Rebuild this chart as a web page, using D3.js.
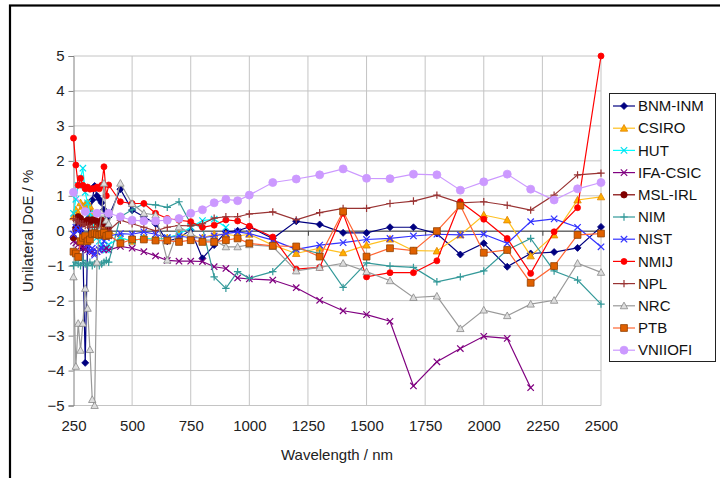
<!DOCTYPE html>
<html><head><meta charset="utf-8">
<script src="https://cdn.jsdelivr.net/npm/d3@7/dist/d3.min.js"></script>
<style>html,body{margin:0;padding:0;background:#fff;}svg{display:block;font-family:"Liberation Sans",Arial,sans-serif;}</style>
</head><body>
<script>
const wavelengths = [250,260,270,280,290,300,310,320,330,340,350,360,370,380,390,400,450,500,550,600,650,700,750,800,850,900,950,1000,1100,1200,1300,1400,1500,1600,1700,1800,1900,2000,2100,2200,2300,2400,2500];
const seriesNames = ["BNM-INM","CSIRO","HUT","IFA-CSIC","MSL-IRL","NIM","NIST","NMIJ","NPL","NRC","PTB","VNIIOFI"];
const bnmInm = [-0.2,0.1,0.3,0.0,-0.5,-3.78,-0.3,0.4,0.88,1.28,1.0,0.9,0.8,0.6,0.2,0.4,1.19,0.59,0.4,0.2,-0.3,-0.2,0.02,-0.79,-0.41,-0.03,0.0,0.11,-0.22,0.27,0.18,-0.06,-0.06,0.1,0.1,-0.08,-0.68,-0.36,-1.03,-0.65,-0.61,-0.49,0.11];
const csiro = [0.4,0.6,0.5,0.8,0.7,0.75,0.8,0.7,0.5,0.4,0.2,0.1,0.0,0.1,-0.1,0.0,-0.2,-0.3,-0.2,-0.25,-0.2,-0.1,-0.15,-0.2,-0.1,-0.1,-0.15,-0.1,-0.41,-0.65,-0.5,-0.63,-0.41,-0.24,-0.57,-0.58,-0.12,0.45,0.31,-0.72,-0.12,0.88,0.97];
const hut = [0.5,0.9,1.3,1.5,1.79,1.1,0.8,0.5,0.3,0.0,-0.2,-0.3,-0.4,-0.5,-0.55,-0.4,-0.2,-0.3,-0.2,-0.25,-0.2,-0.1,0.1,0.29,0.33,0.1,null,null,null,null,null,null,null,null,null,null,null,null,null,null,null,null,null];
const ifaCsic = [-0.3,-0.35,-0.4,-0.45,-0.5,-0.5,-0.55,-0.6,-0.6,-0.65,-0.6,-0.55,-0.5,-0.55,-0.5,-0.55,-0.45,-0.5,-0.6,-0.72,-0.85,-0.87,-0.87,-0.88,-1.03,-1.08,-1.35,-1.38,-1.41,-1.63,-1.99,-2.29,-2.4,-2.59,-4.44,-3.75,-3.37,-3.02,-3.08,-4.49,null,null,null];
const mslIrl = [-0.2,0.05,0.4,0.35,0.2,0.26,0.3,0.25,0.31,0.3,0.26,0.2,0.3,0.2,0.25,0.1,null,null,null,null,null,null,null,null,null,null,null,null,null,null,null,null,null,null,null,null,null,null,null,null,null,null,null];
const nim = [-1.0,-0.9,-0.95,-1.0,-0.85,-0.95,-1.0,-0.9,-1.0,-0.95,-0.9,-1.0,-0.95,-0.9,-0.85,-0.9,0.4,0.6,0.77,0.74,0.67,0.83,0.2,0.1,-1.32,-1.65,-1.17,-1.36,-1.17,-0.5,-0.65,-1.62,-0.92,-1.01,-1.05,-1.46,-1.32,-1.15,-0.55,-0.22,-1.15,-1.41,-2.1];
const nist = [-0.1,0.1,0.0,0.07,-0.2,-0.3,-0.4,-0.6,-0.5,-0.7,-0.6,-0.55,-0.5,-0.3,-0.2,-0.15,-0.08,-0.1,-0.03,-0.1,-0.2,-0.15,-0.2,-0.2,-0.15,-0.08,-0.03,-0.08,-0.27,-0.53,-0.41,-0.34,-0.25,-0.22,-0.15,-0.1,-0.12,-0.1,-0.36,0.26,0.34,0.1,-0.46];
const nmij = [2.65,1.88,1.3,1.5,1.3,1.2,1.25,1.19,1.2,1.21,1.25,1.2,1.3,1.83,1.0,1.31,0.83,0.78,0.78,0.5,0.35,0.3,0.26,0.1,0.16,0.31,0.28,0.13,-0.18,-1.1,-1.05,0.5,-1.32,-1.2,-1.2,-0.86,0.83,0.33,-0.22,-1.22,-0.03,0.66,5.0];
const npl = [0.35,0.3,0.25,0.2,0.2,0.15,0.15,0.1,0.1,0.1,0.1,0.05,0.05,0.0,0.0,0.0,0.3,0.2,0.1,0.0,0.1,0.15,0.14,0.2,0.36,0.4,0.4,0.48,0.54,0.31,0.52,0.64,0.64,0.78,0.85,1.02,0.8,0.83,0.73,0.59,1.02,1.6,1.65];
const nrc = [-1.32,-3.88,-2.65,-3.42,-2.65,-1.65,-2.22,-3.4,-4.83,-5.0,-0.9,0.0,0.5,1.36,0.3,0.2,1.36,0.78,0.5,0.45,-0.84,0.11,-0.07,-0.27,-0.27,-0.46,-0.46,-0.4,-0.45,-1.15,-1.05,-0.93,-1.17,-1.43,-1.91,-1.87,-2.8,-2.27,-2.43,-2.1,-1.99,-0.93,-1.19];
const ptb = [-0.6,-0.65,-0.75,-0.3,-0.2,-0.15,-0.3,-0.25,-0.1,-0.07,-0.1,-0.12,-0.1,-0.06,-0.15,-0.12,-0.36,-0.25,-0.25,-0.28,-0.28,-0.32,-0.27,-0.32,-0.32,-0.27,-0.22,-0.36,-0.43,-0.45,-0.74,0.55,-0.74,-0.5,-0.57,-0.01,0.72,-0.63,-0.55,-1.49,-1.01,-0.12,-0.08];
const vniiofi = [1.1,null,null,null,null,0.55,null,null,null,null,0.5,null,null,null,null,0.5,0.4,0.3,0.28,0.28,0.3,0.35,0.5,0.6,0.8,0.9,0.86,1.02,1.38,1.48,1.6,1.77,1.5,1.49,1.62,1.6,1.16,1.4,1.62,1.19,0.88,1.2,1.38];
const xTicks = [250,500,750,1000,1250,1500,1750,2000,2250,2500];
const yTicks = [-5,-4,-3,-2,-1,0,1,2,3,4,5];

const seriesValues = [bnmInm,csiro,hut,ifaCsic,mslIrl,nim,nist,nmij,npl,nrc,ptb,vniiofi];
const styles = [
  {line:"#000080", fill:"#000080", stroke:"#000080", shape:"diamond", r:3.5},
  {line:"#FFC020", fill:"#FFB000", stroke:"#E08000", shape:"triangle", r:3.7},
  {line:"#00FFFF", fill:"none", stroke:"#00E0F0", shape:"times", r:3.2},
  {line:"#800080", fill:"none", stroke:"#800080", shape:"times", r:3.2},
  {line:"#800000", fill:"#800000", stroke:"#800000", shape:"circle", r:3.2},
  {line:"#339999", fill:"none", stroke:"#339999", shape:"plus", r:3.7},
  {line:"#3333FF", fill:"none", stroke:"#3333FF", shape:"times", r:3.2},
  {line:"#FF0000", fill:"#FF0000", stroke:"#FF0000", shape:"circle", r:3},
  {line:"#993333", fill:"none", stroke:"#993333", shape:"plus", r:3.7},
  {line:"#999999", fill:"#dddddd", stroke:"#888888", shape:"triangle", r:3.7},
  {line:"#FF6633", fill:"#E06000", stroke:"#904000", shape:"square", r:3.4},
  {line:"#CC99FF", fill:"#CC99FF", stroke:"#CC99FF", shape:"circle", r:4}
];

function markerPath(shape, r){
  switch(shape){
    case "diamond": return `M0,${-r}L${r},0L0,${r}L${-r},0Z`;
    case "triangle": return `M0,${-r}L${r},${r*0.8}L${-r},${r*0.8}Z`;
    case "square": return `M${-r},${-r}H${r}V${r}H${-r}Z`;
    case "circle": return `M${r},0A${r},${r} 0 1,1 ${-r},0A${r},${r} 0 1,1 ${r},0Z`;
    case "plus": return `M${-r},0H${r}M0,${-r}V${r}`;
    case "times": return `M${-r},${-r}L${r},${r}M${-r},${r}L${r},${-r}`;
  }
}

const W = 720, H = 478;
const svg = d3.select("body").append("svg").attr("width", W).attr("height", H);

// outer frame
svg.append("rect").attr("x",10).attr("y",5.5).attr("width",W+20).attr("height",H+20)
  .attr("fill","#fff").attr("stroke","#000").attr("stroke-width",2.2);

const x = d3.scaleLinear().domain([250,2500]).range([73.5,601]);
const y = d3.scaleLinear().domain([-5,5]).range([405.5,56]);

// grid
const g = svg.append("g");
g.selectAll(".vg").data(xTicks.slice(1)).join("line")
  .attr("x1",d=>x(d)).attr("x2",d=>x(d)).attr("y1",y(5)).attr("y2",y(-5))
  .attr("stroke","#c4c4c4").attr("stroke-width",1);
g.selectAll(".hg").data(yTicks).join("line")
  .attr("x1",x(250)).attr("x2",x(2500)).attr("y1",d=>y(d)).attr("y2",d=>y(d))
  .attr("stroke","#c4c4c4").attr("stroke-width",1);

// y axis
const yAxis = d3.axisLeft(y).tickValues(yTicks).tickSize(5).tickPadding(4).tickFormat(d3.format("d"));
const ya = svg.append("g").attr("transform",`translate(${x(250)},0)`).call(yAxis);
ya.select(".domain").attr("stroke","#808080");
ya.selectAll(".tick line").attr("stroke","#808080");
ya.selectAll("text").attr("font-size",15).attr("fill","#222").attr("font-family","Liberation Sans, Arial, sans-serif");

// x axis at zero
const xAxisZero = d3.axisBottom(x).tickValues(xTicks).tickSize(5).tickFormat("");
const xa = svg.append("g").attr("transform",`translate(0,${y(0)})`).call(xAxisZero);
xa.select(".domain").attr("stroke","#444").attr("stroke-width",1.2);
xa.selectAll(".tick line").attr("stroke","#444");

// x labels at bottom
const xLab = d3.axisBottom(x).tickValues(xTicks).tickSize(0).tickPadding(15).tickFormat(d3.format("d"));
const xl = svg.append("g").attr("transform",`translate(0,${y(-5)})`).call(xLab);
xl.select(".domain").remove();
xl.selectAll("text").attr("font-size",15).attr("fill","#222").attr("font-family","Liberation Sans, Arial, sans-serif");

// axis titles
svg.append("text").attr("x",337).attr("y",460).attr("text-anchor","middle")
  .attr("font-size",15).attr("fill","#222").text("Wavelength / nm");
svg.append("text").attr("transform",`translate(33,231) rotate(-90)`).attr("text-anchor","middle")
  .attr("font-size",15).attr("fill","#222").text("Unilateral DoE / %");

// series
const line = d3.line().x(d=>x(d.x)).y(d=>y(d.y));
seriesValues.forEach((vals,i)=>{
  const st = styles[i];
  const pts = wavelengths.map((w,k)=>({x:w,y:vals[k]})).filter(d=>d.y!==null && d.y!==undefined);
  const sg = svg.append("g");
  sg.append("path").datum(pts).attr("d",line).attr("fill","none")
    .attr("stroke",st.line).attr("stroke-width",1.2);
  sg.selectAll("path.m").data(pts).join("path").attr("class","m")
    .attr("transform",d=>`translate(${x(d.x)},${y(d.y)})`)
    .attr("d",markerPath(st.shape, st.r))
    .attr("fill",st.fill).attr("stroke",st.stroke).attr("stroke-width",st.fill==="none"?1.2:0.8);
});

// legend
const lg = svg.append("g");
lg.append("rect").attr("x",609.5).attr("y",93.5).attr("width",106).attr("height",268)
  .attr("fill","#fff").attr("stroke","#222").attr("stroke-width",1);
seriesNames.forEach((name,i)=>{
  const st = styles[i];
  const yy = 106 + i*22.2;
  lg.append("line").attr("x1",613).attr("x2",635).attr("y1",yy).attr("y2",yy)
    .attr("stroke",st.line).attr("stroke-width",1.2);
  lg.append("path").attr("transform",`translate(624,${yy})`).attr("d",markerPath(st.shape,st.r))
    .attr("fill",st.fill).attr("stroke",st.stroke).attr("stroke-width",st.fill==="none"?1.2:0.8);
  lg.append("text").attr("x",638).attr("y",yy+5.2).attr("font-size",15).attr("fill","#111").text(name);
});
</script>
</body></html>
